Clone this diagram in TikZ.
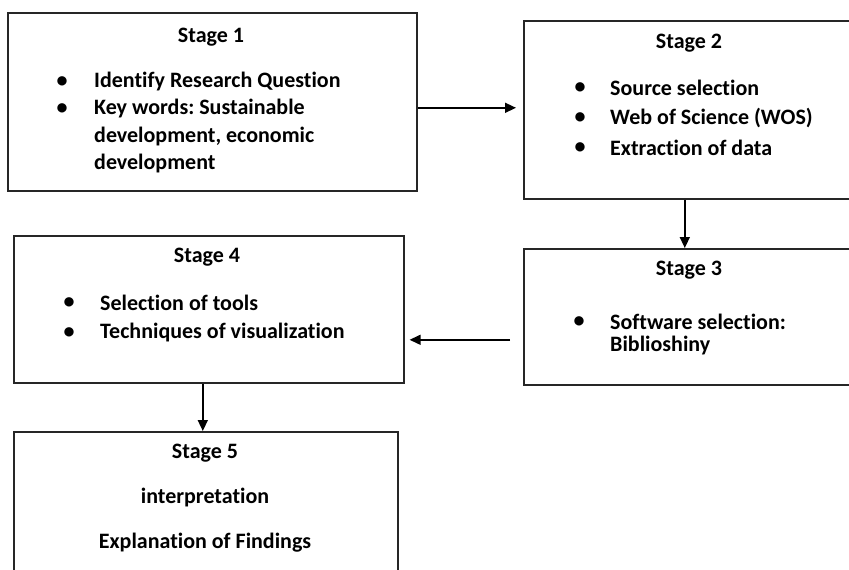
\documentclass[tikz,border=0pt]{standalone}
\usepackage{fontspec}
\setmainfont{Carlito}[Ligatures=NoCommon]
\frenchspacing
\usetikzlibrary{arrows.meta}
\begin{document}
\begin{tikzpicture}[x=1pt,y=-1pt,
  stagebox/.style={draw=black!85,line width=1.6pt,rectangle,inner sep=0pt,anchor=north west},
  txt/.style={inner sep=0pt,font=\fontsize{22}{26}\selectfont\bfseries,text=black},
  item/.style={txt,anchor=west},
  dot/.style={txt,anchor=center},
  arr/.style={draw=black,line width=1.5pt,-{Triangle[length=11pt,width=10pt]}}]
\useasboundingbox (0,0) rectangle (849,570);
\clip (0,0) rectangle (849,570);

% stage boxes
\node[stagebox,minimum width=409pt,minimum height=178pt] (s1) at (7,12) {};
\node[stagebox,minimum width=330pt,minimum height=178pt] (s2) at (523,20) {};
\node[stagebox,minimum width=330pt,minimum height=136pt] (s3) at (523,248) {};
\node[stagebox,minimum width=390pt,minimum height=147pt] (s4) at (13,235) {};
\node[stagebox,minimum width=384pt,minimum height=160pt] (s5) at (13,431) {};

% stage 1
\node[txt] (t1) at (211,37) {Stage 1};
\node[dot] (b11) at (62,82) {•};
\node[item] (i11) at (94,82) {Identify Research Question};
\node[dot] (b12) at (62,109) {•};
\node[item] (i12) at (94,109) {Key words: Sustainable};
\node[item] (i13) at (94,137) {development, economic};
\node[item] (i14) at (94,164) {development};

% stage 2
\node[txt] (t2) at (689,43) {Stage 2};
\node[dot] (b21) at (580,88) {•};
\node[item] (i21) at (610,88) {Source selection};
\node[dot] (b22) at (580,118) {•};
\node[item] (i22) at (610,118) {Web of Science (WOS)};
\node[dot] (b23) at (580,148) {•};
\node[item] (i23) at (610,148) {Extraction of data};

% stage 3
\node[txt] (t3) at (689,270) {Stage 3};
\node[dot] (b31) at (579,322) {•};
\node[item] (i31) at (610,322) {Software selection:};
\node[item] (i32) at (610,346) {Biblioshiny};

% stage 4
\node[txt] (t4) at (207,257) {Stage 4};
\node[dot] (b41) at (69,303) {•};
\node[item] (i41) at (100,303) {Selection of tools};
\node[dot] (b42) at (69,333) {•};
\node[item] (i42) at (100,333) {Techniques of visualization};

% stage 5
\node[txt] (t5) at (205,453) {Stage 5};
\node[txt] (i51) at (205,498) {interpretation};
\node[txt] (i52) at (205,543) {Explanation of Findings};

% connectors
\draw[arr,shorten >=7pt] ([yshift=-6pt]s1.east) -- ([yshift=-6pt]s1.east -| s2.west);
\draw[arr] ([xshift=-4pt]s2.south) -- ([xshift=-4pt]s2.south |- s3.north);
\draw[arr,shorten <=13pt,shorten >=5pt] ([yshift=-23pt]s3.west) -- ([yshift=-23pt]s3.west -| s4.east);
\draw[arr] ([xshift=-6pt]s4.south) -- ([xshift=-6pt]s4.south |- s5.north);
\end{tikzpicture}
\end{document}
